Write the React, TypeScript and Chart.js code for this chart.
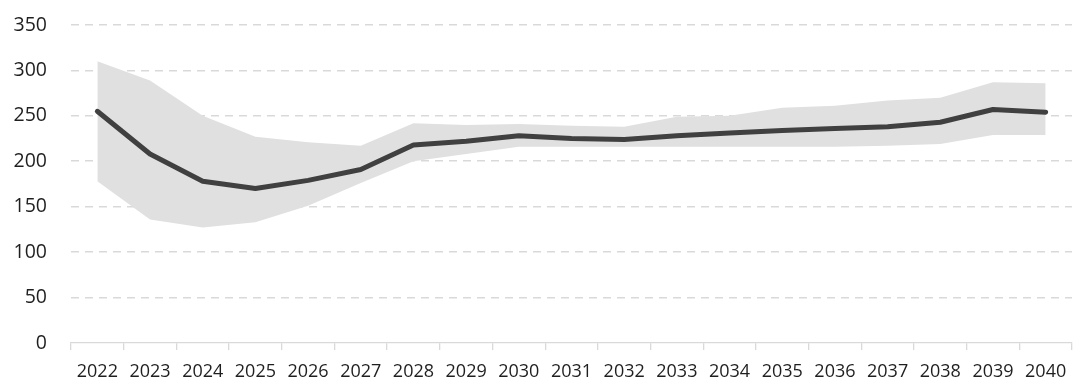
import React, { useEffect, useRef } from "react";
import { Chart, registerables } from "chart.js";

Chart.register(...registerables);

// Years on the horizontal axis
const years = [
  "2022", "2023", "2024", "2025", "2026", "2027", "2028", "2029", "2030", "2031",
  "2032", "2033", "2034", "2035", "2036", "2037", "2038", "2039", "2040",
];

// Central projection
const central = [255, 208, 178, 170, 179, 191, 218, 222, 228, 225, 224, 228, 231, 234, 236, 238, 243, 257, 254];

// Upper and lower bounds of the range band
const upper = [310, 289, 250, 227, 221, 217, 242, 240, 241, 239, 238, 249, 250, 259, 261, 267, 270, 287, 286];
const lower = [178, 136, 127, 133, 151, 176, 200, 208, 216, 216, 216, 216, 216, 216, 216, 217, 219, 229, 229];

// Value axis ticks
const yMin = 0;
const yMax = 350;
const yStep = 50;

const FONT = "'Open Sans', sans-serif";
const GRID = "#d9d9d9";
const TEXT = "#1f1f1f";

export default function App() {
  const canvasRef = useRef<HTMLCanvasElement | null>(null);

  useEffect(() => {
    const canvas = canvasRef.current;
    if (!canvas) return;
    const chart = new Chart(canvas, {
      type: "line",
      data: {
        labels: years,
        datasets: [
          {
            label: "Central",
            data: central,
            borderColor: "#404040",
            borderWidth: 5,
            borderCapStyle: "round",
            borderJoinStyle: "round",
            pointRadius: 0,
            tension: 0,
            fill: false,
          },
          {
            label: "Upper",
            data: upper,
            borderWidth: 0,
            borderColor: "rgba(0,0,0,0)",
            backgroundColor: "#e0e0e0",
            pointRadius: 0,
            tension: 0,
            fill: "+1",
          },
          {
            label: "Lower",
            data: lower,
            borderWidth: 0,
            borderColor: "rgba(0,0,0,0)",
            pointRadius: 0,
            tension: 0,
            fill: false,
          },
        ],
      },
      options: {
        responsive: false,
        animation: false,
        layout: { padding: { top: 25, right: 1, left: 0, bottom: 0 } },
        plugins: {
          legend: { display: false },
          tooltip: { enabled: false },
        },
        scales: {
          x: {
            offset: true,
            grid: {
              offset: true,
              drawOnChartArea: false,
              drawTicks: true,
              tickLength: 7,
              color: GRID,
              lineWidth: 1.3,
            },
            border: { display: true, color: GRID, width: 1.3 },
            ticks: {
              color: TEXT,
              font: { family: FONT, size: 18 },
              padding: 11,
              maxRotation: 0,
              autoSkip: false,
            },
            afterFit: (axis: any) => {
              axis.height = 36;
              axis.paddingLeft = 0;
              axis.paddingRight = 0;
            },
          },
          y: {
            min: yMin,
            max: yMax,
            grid: {
              drawTicks: false,
              lineWidth: 1.6,
              color: (ctx: any) => (ctx.tick && ctx.tick.value === 0 ? "rgba(0,0,0,0)" : GRID),
            },
            border: { display: false, dash: [8, 6] },
            ticks: {
              stepSize: yStep,
              color: TEXT,
              font: { family: FONT, size: 19.5 },
              padding: 24,
            },
            afterFit: (axis: any) => {
              axis.width = 71;
              axis.paddingTop = 0;
              axis.paddingBottom = 0;
            },
          },
        },
      },
    });
    return () => chart.destroy();
  }, []);

  return (
    <div style={{ position: "absolute", left: 0, top: 0, width: 1073, height: 379 }}>
      <canvas ref={canvasRef} width={1073} height={379} />
    </div>
  );
}
